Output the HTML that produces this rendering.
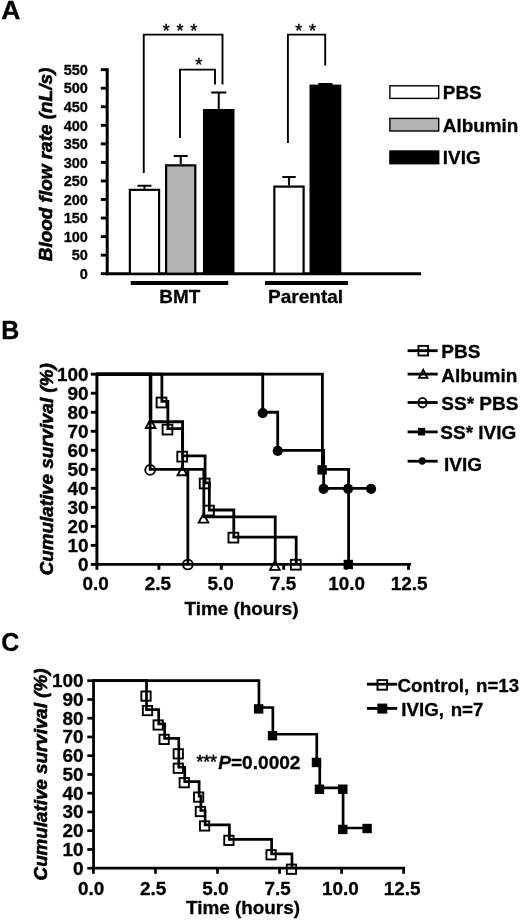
<!DOCTYPE html>
<html><head><meta charset="utf-8"><title>Figure</title>
<style>
html,body{margin:0;padding:0;background:#fff;}
svg{display:block;}
svg text{font-family:"Liberation Sans",Arial,Helvetica,sans-serif;font-weight:bold;fill:#000;stroke:#000;stroke-width:0.3px;}
svg text.yl{stroke-width:0.6px;}
</style></head>
<body>
<svg width="520" height="921" viewBox="0 0 520 921">
<rect x="0" y="0" width="520" height="921" fill="#fff"/>
<text x="1.20" y="18.80" font-size="26.5" text-anchor="start"  >A</text>
<text x="1.20" y="339.30" font-size="25" text-anchor="start"  >B</text>
<text x="1.20" y="651.30" font-size="25" text-anchor="start"  >C</text>
<line x1="107.20" y1="68.20" x2="107.20" y2="275.15" stroke="#000" stroke-width="3.0" />
<line x1="105.70" y1="273.70" x2="421.00" y2="273.70" stroke="#000" stroke-width="2.9" />
<line x1="100.80" y1="273.70" x2="107.20" y2="273.70" stroke="#000" stroke-width="2.9" />
<text x="87.90" y="278.90" font-size="14.5" text-anchor="end"  >0</text>
<line x1="100.80" y1="255.15" x2="107.20" y2="255.15" stroke="#000" stroke-width="2.9" />
<text x="87.90" y="260.35" font-size="14.5" text-anchor="end"  >50</text>
<line x1="100.80" y1="236.60" x2="107.20" y2="236.60" stroke="#000" stroke-width="2.9" />
<text x="87.90" y="241.80" font-size="14.5" text-anchor="end"  >100</text>
<line x1="100.80" y1="218.05" x2="107.20" y2="218.05" stroke="#000" stroke-width="2.9" />
<text x="87.90" y="223.25" font-size="14.5" text-anchor="end"  >150</text>
<line x1="100.80" y1="199.50" x2="107.20" y2="199.50" stroke="#000" stroke-width="2.9" />
<text x="87.90" y="204.70" font-size="14.5" text-anchor="end"  >200</text>
<line x1="100.80" y1="180.95" x2="107.20" y2="180.95" stroke="#000" stroke-width="2.9" />
<text x="87.90" y="186.15" font-size="14.5" text-anchor="end"  >250</text>
<line x1="100.80" y1="162.40" x2="107.20" y2="162.40" stroke="#000" stroke-width="2.9" />
<text x="87.90" y="167.60" font-size="14.5" text-anchor="end"  >300</text>
<line x1="100.80" y1="143.85" x2="107.20" y2="143.85" stroke="#000" stroke-width="2.9" />
<text x="87.90" y="149.05" font-size="14.5" text-anchor="end"  >350</text>
<line x1="100.80" y1="125.30" x2="107.20" y2="125.30" stroke="#000" stroke-width="2.9" />
<text x="87.90" y="130.50" font-size="14.5" text-anchor="end"  >400</text>
<line x1="100.80" y1="106.75" x2="107.20" y2="106.75" stroke="#000" stroke-width="2.9" />
<text x="87.90" y="111.95" font-size="14.5" text-anchor="end"  >450</text>
<line x1="100.80" y1="88.20" x2="107.20" y2="88.20" stroke="#000" stroke-width="2.9" />
<text x="87.90" y="93.40" font-size="14.5" text-anchor="end"  >500</text>
<line x1="100.80" y1="69.65" x2="107.20" y2="69.65" stroke="#000" stroke-width="2.9" />
<text x="87.90" y="74.85" font-size="14.5" text-anchor="end"  >550</text>
<text transform="translate(52.0,164.5) rotate(-90)" class="yl" font-size="18.95" text-anchor="middle" font-style="italic">Blood flow rate (nL/s)</text>
<line x1="144.47" y1="185.75" x2="144.47" y2="188.75" stroke="#000" stroke-width="2.0" />
<line x1="137.47" y1="185.75" x2="151.47" y2="185.75" stroke="#000" stroke-width="2.0" />
<rect x="129.85" y="189.85" width="29.25" height="83.85" fill="#fff" stroke="#000" stroke-width="2.2"/>
<line x1="180.70" y1="156.00" x2="180.70" y2="164.25" stroke="#000" stroke-width="2.0" />
<line x1="173.70" y1="156.00" x2="187.70" y2="156.00" stroke="#000" stroke-width="2.0" />
<rect x="166.10" y="165.35" width="29.20" height="108.35" fill="#b4b4b4" stroke="#000" stroke-width="2.2"/>
<line x1="218.75" y1="92.50" x2="218.75" y2="109.00" stroke="#000" stroke-width="2.0" />
<line x1="211.25" y1="92.50" x2="226.25" y2="92.50" stroke="#000" stroke-width="2.0" />
<rect x="203.00" y="109.00" width="31.50" height="164.70" fill="#000"/>
<line x1="288.98" y1="177.00" x2="288.98" y2="185.50" stroke="#000" stroke-width="2.0" />
<line x1="282.23" y1="177.00" x2="295.73" y2="177.00" stroke="#000" stroke-width="2.0" />
<rect x="274.35" y="186.60" width="29.25" height="87.10" fill="#fff" stroke="#000" stroke-width="2.2"/>
<line x1="325.40" y1="84.00" x2="325.40" y2="84.60" stroke="#000" stroke-width="2.0" />
<line x1="318.40" y1="84.00" x2="332.40" y2="84.00" stroke="#000" stroke-width="2.0" />
<rect x="309.50" y="84.60" width="31.80" height="189.10" fill="#000"/>
<path d="M143.75 173 V34.6 H222.5 V84.5" stroke="#000" stroke-width="1.9" fill="none" />
<path d="M180 138 V69.6 H215 V84.5" stroke="#000" stroke-width="1.9" fill="none" />
<path d="M287.9 143 V34.6 H325.2 V65.5" stroke="#000" stroke-width="1.9" fill="none" />
<text x="166.20" y="37.16" font-size="18" text-anchor="middle" style="font-weight:normal;stroke:#000;stroke-width:0.45px">*</text>
<text x="180.00" y="37.16" font-size="18" text-anchor="middle" style="font-weight:normal;stroke:#000;stroke-width:0.45px">*</text>
<text x="193.80" y="37.16" font-size="18" text-anchor="middle" style="font-weight:normal;stroke:#000;stroke-width:0.45px">*</text>
<text x="198.70" y="71.26" font-size="18" text-anchor="middle" style="font-weight:normal;stroke:#000;stroke-width:0.45px">*</text>
<text x="298.70" y="37.16" font-size="18" text-anchor="middle" style="font-weight:normal;stroke:#000;stroke-width:0.45px">*</text>
<text x="312.50" y="37.16" font-size="18" text-anchor="middle" style="font-weight:normal;stroke:#000;stroke-width:0.45px">*</text>
<line x1="130.75" y1="283.00" x2="228.25" y2="283.00" stroke="#000" stroke-width="4.2" />
<line x1="265.00" y1="283.00" x2="348.00" y2="283.00" stroke="#000" stroke-width="4.2" />
<text x="179.80" y="302.60" font-size="18.9" text-anchor="middle"  >BMT</text>
<text x="305.60" y="302.60" font-size="19" text-anchor="middle"  >Parental</text>
<rect x="389.90" y="85.80" width="48.80" height="12.60" fill="#fff" stroke="#000" stroke-width="1.4"/>
<rect x="389.90" y="118.40" width="48.80" height="12.60" fill="#b4b4b4" stroke="#000" stroke-width="1.4"/>
<rect x="389.2" y="150.3" width="50.2" height="14.1" fill="#000"/>
<text x="442.80" y="98.90" font-size="18.9" text-anchor="start"  >PBS</text>
<text x="442.80" y="131.50" font-size="18.9" text-anchor="start"  >Albumin</text>
<text x="442.80" y="164.30" font-size="18.9" text-anchor="start"  >IVIG</text>
<line x1="96.90" y1="372.75" x2="96.90" y2="565.85" stroke="#000" stroke-width="3.0" />
<line x1="95.40" y1="564.40" x2="410.95" y2="564.40" stroke="#000" stroke-width="2.9" />
<line x1="90.80" y1="564.40" x2="96.90" y2="564.40" stroke="#000" stroke-width="2.9" />
<text x="88.60" y="570.70" font-size="18.9" text-anchor="end"  >0</text>
<line x1="90.80" y1="545.38" x2="96.90" y2="545.38" stroke="#000" stroke-width="2.9" />
<text x="88.60" y="551.68" font-size="18.9" text-anchor="end"  >10</text>
<line x1="90.80" y1="526.36" x2="96.90" y2="526.36" stroke="#000" stroke-width="2.9" />
<text x="88.60" y="532.66" font-size="18.9" text-anchor="end"  >20</text>
<line x1="90.80" y1="507.34" x2="96.90" y2="507.34" stroke="#000" stroke-width="2.9" />
<text x="88.60" y="513.64" font-size="18.9" text-anchor="end"  >30</text>
<line x1="90.80" y1="488.32" x2="96.90" y2="488.32" stroke="#000" stroke-width="2.9" />
<text x="88.60" y="494.62" font-size="18.9" text-anchor="end"  >40</text>
<line x1="90.80" y1="469.30" x2="96.90" y2="469.30" stroke="#000" stroke-width="2.9" />
<text x="88.60" y="475.60" font-size="18.9" text-anchor="end"  >50</text>
<line x1="90.80" y1="450.28" x2="96.90" y2="450.28" stroke="#000" stroke-width="2.9" />
<text x="88.60" y="456.58" font-size="18.9" text-anchor="end"  >60</text>
<line x1="90.80" y1="431.26" x2="96.90" y2="431.26" stroke="#000" stroke-width="2.9" />
<text x="88.60" y="437.56" font-size="18.9" text-anchor="end"  >70</text>
<line x1="90.80" y1="412.24" x2="96.90" y2="412.24" stroke="#000" stroke-width="2.9" />
<text x="88.60" y="418.54" font-size="18.9" text-anchor="end"  >80</text>
<line x1="90.80" y1="393.22" x2="96.90" y2="393.22" stroke="#000" stroke-width="2.9" />
<text x="88.60" y="399.52" font-size="18.9" text-anchor="end"  >90</text>
<line x1="90.80" y1="374.20" x2="96.90" y2="374.20" stroke="#000" stroke-width="2.9" />
<text x="88.60" y="380.50" font-size="18.9" text-anchor="end"  >100</text>
<line x1="96.90" y1="564.40" x2="96.90" y2="569.80" stroke="#000" stroke-width="2.9" />
<text x="95.70" y="590.40" font-size="18.9" text-anchor="middle"  >0.0</text>
<line x1="158.90" y1="564.40" x2="158.90" y2="569.80" stroke="#000" stroke-width="2.9" />
<text x="157.90" y="590.40" font-size="18.9" text-anchor="middle"  >2.5</text>
<line x1="221.30" y1="564.40" x2="221.30" y2="569.80" stroke="#000" stroke-width="2.9" />
<text x="220.70" y="590.40" font-size="18.9" text-anchor="middle"  >5.0</text>
<line x1="283.70" y1="564.40" x2="283.70" y2="569.80" stroke="#000" stroke-width="2.9" />
<text x="283.20" y="590.40" font-size="18.9" text-anchor="middle"  >7.5</text>
<line x1="346.10" y1="564.40" x2="346.10" y2="569.80" stroke="#000" stroke-width="2.9" />
<text x="346.70" y="590.40" font-size="18.9" text-anchor="middle"  >10.0</text>
<line x1="408.50" y1="564.40" x2="408.50" y2="569.80" stroke="#000" stroke-width="2.9" />
<text x="409.20" y="590.40" font-size="18.9" text-anchor="middle"  >12.5</text>
<text x="241.50" y="614.60" font-size="18.9" text-anchor="middle"  >Time (hours)</text>
<text transform="translate(52.7,469.3) rotate(-90)" class="yl" font-size="18.8" text-anchor="middle" font-style="italic">Cumulative survival (%)</text>
<path d="M96.50 374.20 H161.90 V401.40 H167.89 V428.60 H182.61 V455.80 H205.08 V482.80 H209.32 V510.00 H233.78 V537.20 H296.18 V564.40" stroke="#000" stroke-width="2.8" fill="none" stroke-linejoin="miter"/>
<path d="M96.50 374.20 H150.91 V421.75 H182.61 V469.30 H203.83 V516.85 H275.21 V564.40" stroke="#000" stroke-width="2.8" fill="none" stroke-linejoin="miter"/>
<path d="M96.50 374.20 H150.16 V469.30 H187.85 V564.40" stroke="#000" stroke-width="2.8" fill="none" stroke-linejoin="miter"/>
<path d="M96.50 374.20 H322.39 V469.30 H348.60 V564.40" stroke="#000" stroke-width="2.8" fill="none" stroke-linejoin="miter"/>
<path d="M96.50 374.20 H262.73 V412.24 H277.71 V450.28 H323.64 V488.32 H371.06" stroke="#000" stroke-width="2.8" fill="none" stroke-linejoin="miter"/>
<rect x="156.60" y="397.61" width="9.8" height="9.8" fill="none" stroke="#000" stroke-width="1.9"/>
<rect x="162.59" y="424.68" width="9.8" height="9.8" fill="none" stroke="#000" stroke-width="1.9"/>
<rect x="177.31" y="451.74" width="9.8" height="9.8" fill="none" stroke="#000" stroke-width="1.9"/>
<rect x="199.78" y="478.61" width="9.8" height="9.8" fill="none" stroke="#000" stroke-width="1.9"/>
<rect x="204.02" y="505.67" width="9.8" height="9.8" fill="none" stroke="#000" stroke-width="1.9"/>
<rect x="228.48" y="532.74" width="9.8" height="9.8" fill="none" stroke="#000" stroke-width="1.9"/>
<rect x="290.88" y="559.80" width="9.8" height="9.8" fill="none" stroke="#000" stroke-width="1.9"/>
<path d="M150.61 418.96 L155.41 427.96 H145.81 Z" fill="none" stroke="#000" stroke-width="1.9"/>
<path d="M182.31 466.27 L187.11 475.27 H177.51 Z" fill="none" stroke="#000" stroke-width="1.9"/>
<path d="M203.53 513.59 L208.33 522.59 H198.73 Z" fill="none" stroke="#000" stroke-width="1.9"/>
<path d="M274.91 560.90 L279.71 569.90 H270.11 Z" fill="none" stroke="#000" stroke-width="1.9"/>
<circle cx="150.16" cy="469.88" r="4.9" fill="none" stroke="#000" stroke-width="1.9"/>
<circle cx="187.85" cy="564.50" r="4.9" fill="none" stroke="#000" stroke-width="1.9"/>
<rect x="317.39" y="465.18" width="9.4" height="9.4" fill="#000"/>
<rect x="343.60" y="559.80" width="9.4" height="9.4" fill="#000"/>
<circle cx="262.73" cy="413.10" r="5.1" fill="#000" stroke="#000" stroke-width="0"/>
<circle cx="277.71" cy="450.95" r="5.1" fill="#000" stroke="#000" stroke-width="0"/>
<circle cx="323.64" cy="488.80" r="5.1" fill="#000" stroke="#000" stroke-width="0"/>
<circle cx="348.10" cy="488.80" r="5.1" fill="#000" stroke="#000" stroke-width="0"/>
<circle cx="371.06" cy="488.80" r="5.1" fill="#000" stroke="#000" stroke-width="0"/>
<line x1="407.60" y1="350.70" x2="437.70" y2="350.70" stroke="#000" stroke-width="2.8" />
<line x1="407.60" y1="374.10" x2="437.70" y2="374.10" stroke="#000" stroke-width="2.8" />
<line x1="407.60" y1="402.50" x2="437.70" y2="402.50" stroke="#000" stroke-width="2.8" />
<line x1="407.60" y1="431.90" x2="437.70" y2="431.90" stroke="#000" stroke-width="2.8" />
<line x1="407.60" y1="461.20" x2="437.70" y2="461.20" stroke="#000" stroke-width="2.8" />
<rect x="418.45" y="345.90" width="9.6" height="9.6" fill="#fff" stroke="#000" stroke-width="1.9"/>
<line x1="417.00" y1="350.70" x2="430.00" y2="350.70" stroke="#000" stroke-width="2.8" />
<path d="M423.25 369.9 L427.4 377.9 H419.1 Z" fill="#fff" stroke="#000" stroke-width="1.9"/>
<line x1="420.50" y1="374.10" x2="426.00" y2="374.10" stroke="#000" stroke-width="2.8" />
<ellipse cx="422.5" cy="402.7" rx="4.1" ry="4.8" fill="#fff" stroke="#000" stroke-width="1.9"/>
<line x1="418.00" y1="402.50" x2="427.00" y2="402.50" stroke="#000" stroke-width="2.8" />
<rect x="417.9" y="427.9" width="7.2" height="7.6" fill="#000"/>
<ellipse cx="422.2" cy="461" rx="3.5" ry="3.8" fill="#000"/>
<text x="441.30" y="358.10" font-size="19" text-anchor="start"  >PBS</text>
<text x="441.30" y="381.80" font-size="19" text-anchor="start"  >Albumin</text>
<text x="441.30" y="410.00" font-size="19" text-anchor="start"  >SS* PBS</text>
<text x="440.30" y="438.80" font-size="19" text-anchor="start"  >SS* IVIG</text>
<text x="444.00" y="470.80" font-size="19" text-anchor="start"  >IVIG</text>
<line x1="93.55" y1="679.35" x2="93.55" y2="869.55" stroke="#000" stroke-width="2.8" />
<line x1="92.10" y1="868.20" x2="405.10" y2="868.20" stroke="#000" stroke-width="2.7" />
<line x1="87.30" y1="868.20" x2="93.40" y2="868.20" stroke="#000" stroke-width="2.7" />
<text x="83.60" y="874.70" font-size="18.9" text-anchor="end"  >0</text>
<line x1="87.30" y1="849.45" x2="93.40" y2="849.45" stroke="#000" stroke-width="2.7" />
<text x="83.60" y="855.95" font-size="18.9" text-anchor="end"  >10</text>
<line x1="87.30" y1="830.70" x2="93.40" y2="830.70" stroke="#000" stroke-width="2.7" />
<text x="83.60" y="837.20" font-size="18.9" text-anchor="end"  >20</text>
<line x1="87.30" y1="811.95" x2="93.40" y2="811.95" stroke="#000" stroke-width="2.7" />
<text x="83.60" y="818.45" font-size="18.9" text-anchor="end"  >30</text>
<line x1="87.30" y1="793.20" x2="93.40" y2="793.20" stroke="#000" stroke-width="2.7" />
<text x="83.60" y="799.70" font-size="18.9" text-anchor="end"  >40</text>
<line x1="87.30" y1="774.45" x2="93.40" y2="774.45" stroke="#000" stroke-width="2.7" />
<text x="83.60" y="780.95" font-size="18.9" text-anchor="end"  >50</text>
<line x1="87.30" y1="755.70" x2="93.40" y2="755.70" stroke="#000" stroke-width="2.7" />
<text x="83.60" y="762.20" font-size="18.9" text-anchor="end"  >60</text>
<line x1="87.30" y1="736.95" x2="93.40" y2="736.95" stroke="#000" stroke-width="2.7" />
<text x="83.60" y="743.45" font-size="18.9" text-anchor="end"  >70</text>
<line x1="87.30" y1="718.20" x2="93.40" y2="718.20" stroke="#000" stroke-width="2.7" />
<text x="83.60" y="724.70" font-size="18.9" text-anchor="end"  >80</text>
<line x1="87.30" y1="699.45" x2="93.40" y2="699.45" stroke="#000" stroke-width="2.7" />
<text x="83.60" y="705.95" font-size="18.9" text-anchor="end"  >90</text>
<line x1="87.30" y1="680.70" x2="93.40" y2="680.70" stroke="#000" stroke-width="2.7" />
<text x="83.60" y="687.20" font-size="18.9" text-anchor="end"  >100</text>
<line x1="93.40" y1="868.20" x2="93.40" y2="873.80" stroke="#000" stroke-width="2.7" />
<text x="91.20" y="895.10" font-size="18.9" text-anchor="middle"  >0.0</text>
<line x1="155.45" y1="868.20" x2="155.45" y2="873.80" stroke="#000" stroke-width="2.7" />
<text x="153.25" y="895.10" font-size="18.9" text-anchor="middle"  >2.5</text>
<line x1="217.50" y1="868.20" x2="217.50" y2="873.80" stroke="#000" stroke-width="2.7" />
<text x="215.50" y="895.10" font-size="18.9" text-anchor="middle"  >5.0</text>
<line x1="279.55" y1="868.20" x2="279.55" y2="873.80" stroke="#000" stroke-width="2.7" />
<text x="277.75" y="895.10" font-size="18.9" text-anchor="middle"  >7.5</text>
<line x1="341.60" y1="868.20" x2="341.60" y2="873.80" stroke="#000" stroke-width="2.7" />
<text x="340.40" y="895.10" font-size="18.9" text-anchor="middle"  >10.0</text>
<line x1="403.65" y1="868.20" x2="403.65" y2="873.80" stroke="#000" stroke-width="2.7" />
<text x="402.25" y="895.10" font-size="18.9" text-anchor="middle"  >12.5</text>
<text x="243.00" y="913.50" font-size="18.9" text-anchor="middle"  >Time (hours)</text>
<text transform="translate(46.8,774.5) rotate(-90)" class="yl" font-size="18.8" text-anchor="middle" font-style="italic">Cumulative survival (%)</text>
<path d="M93.40 680.70 H146.51 V709.55 H158.68 V723.97 H164.63 V738.39 H178.78 V767.24 H184.74 V781.66 H199.13 V796.08 H200.87 V810.51 H205.09 V824.93 H229.41 V839.35 H271.61 V853.78 H291.96 V868.20" stroke="#000" stroke-width="2.7" fill="none" stroke-linejoin="miter"/>
<rect x="141.36" y="691.47" width="9.3" height="9.3" fill="none" stroke="#000" stroke-width="1.9"/>
<rect x="142.85" y="705.90" width="9.3" height="9.3" fill="none" stroke="#000" stroke-width="1.9"/>
<rect x="153.53" y="720.32" width="9.3" height="9.3" fill="none" stroke="#000" stroke-width="1.9"/>
<rect x="159.48" y="734.74" width="9.3" height="9.3" fill="none" stroke="#000" stroke-width="1.9"/>
<rect x="173.63" y="749.17" width="9.3" height="9.3" fill="none" stroke="#000" stroke-width="1.9"/>
<rect x="173.63" y="763.59" width="9.3" height="9.3" fill="none" stroke="#000" stroke-width="1.9"/>
<rect x="179.59" y="778.01" width="9.3" height="9.3" fill="none" stroke="#000" stroke-width="1.9"/>
<rect x="193.98" y="792.43" width="9.3" height="9.3" fill="none" stroke="#000" stroke-width="1.9"/>
<rect x="195.72" y="806.86" width="9.3" height="9.3" fill="none" stroke="#000" stroke-width="1.9"/>
<rect x="199.94" y="821.28" width="9.3" height="9.3" fill="none" stroke="#000" stroke-width="1.9"/>
<rect x="224.26" y="835.70" width="9.3" height="9.3" fill="none" stroke="#000" stroke-width="1.9"/>
<rect x="266.46" y="850.13" width="9.3" height="9.3" fill="none" stroke="#000" stroke-width="1.9"/>
<rect x="286.81" y="864.55" width="9.3" height="9.3" fill="none" stroke="#000" stroke-width="1.9"/>
<path d="M93.40 680.70 H258.95 V707.49 H272.85 V734.27 H316.78 V761.06 H319.76 V787.84 H343.09 V828.02 H367.41" stroke="#000" stroke-width="2.7" fill="none" stroke-linejoin="miter"/>
<rect x="253.95" y="704.19" width="9.4" height="9.4" fill="#000"/>
<rect x="267.85" y="730.97" width="9.4" height="9.4" fill="#000"/>
<rect x="311.78" y="757.76" width="9.4" height="9.4" fill="#000"/>
<rect x="314.76" y="784.54" width="9.4" height="9.4" fill="#000"/>
<rect x="338.09" y="824.72" width="9.4" height="9.4" fill="#000"/>
<rect x="338.09" y="784.54" width="9.4" height="9.4" fill="#000"/>
<rect x="362.41" y="823.82" width="9.4" height="9.4" fill="#000"/>
<text x="196.4" y="769" font-size="19.1"><tspan font-size="17.6" dy="-1.1" style="font-weight:normal;stroke-width:0.55px">***</tspan><tspan x="218.2" dy="1.1" font-style="italic">P</tspan>=0.0002</text>
<line x1="366.90" y1="684.20" x2="397.20" y2="684.20" stroke="#000" stroke-width="2.9" />
<rect x="377.50" y="680.10" width="9.6" height="9.6" fill="#fff" stroke="#000" stroke-width="1.9"/>
<line x1="377.50" y1="684.20" x2="386.50" y2="684.20" stroke="#000" stroke-width="2.6" />
<line x1="366.90" y1="708.40" x2="397.20" y2="708.40" stroke="#000" stroke-width="2.9" />
<rect x="377.30" y="703.60" width="10" height="10" fill="#000"/>
<text x="397.60" y="691.70" font-size="18.7" text-anchor="start"  >Control, <tspan dx="1.6">n=13</tspan></text>
<text x="401.30" y="716.30" font-size="18.7" text-anchor="start"  >IVIG, <tspan dx="1.6">n=7</tspan></text>
</svg>
</body></html>
